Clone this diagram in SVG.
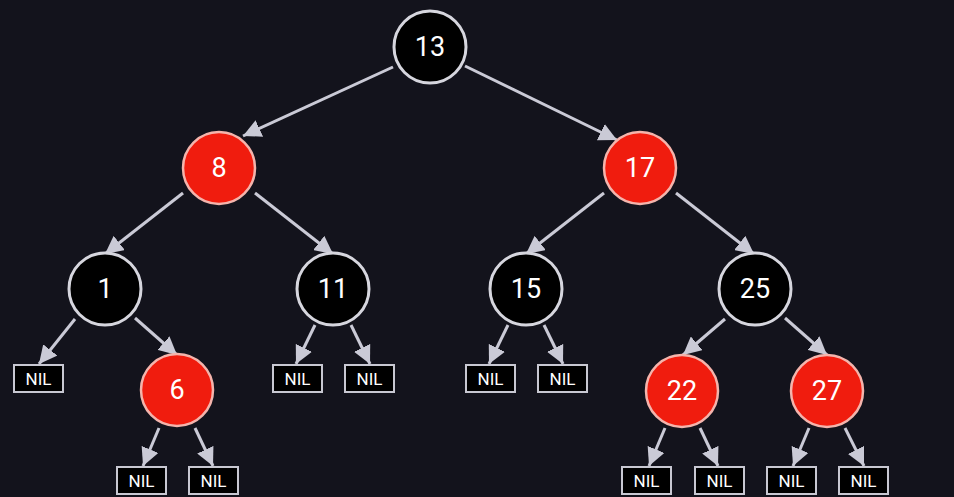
<svg xmlns="http://www.w3.org/2000/svg" width="954" height="497" viewBox="0 0 954 497">
<style>
.bg{fill:#13131c}
.blk{fill:#000;stroke:#d6d6de;stroke-width:3}
.red{fill:#f01c0e;stroke:#f4b4ac;stroke-width:2.5}
.num{font-family:Roboto,"Liberation Sans",sans-serif;font-size:27px;fill:#fff;text-anchor:middle;dominant-baseline:central}
.nilbox{fill:#000;stroke:#c8c8d2;stroke-width:2}
.nil{font-family:Roboto,"Liberation Sans",sans-serif;font-size:17px;fill:#fff;text-anchor:middle;dominant-baseline:central}
.edge{stroke:#cacad6;stroke-width:3;fill:none;marker-end:url(#ah)}
</style>
<defs>
<marker id="ah" viewBox="0 0 16 16" markerWidth="18" markerHeight="18" refX="16" refY="8" orient="auto" markerUnits="userSpaceOnUse">
<path d="M0,0 L16,8 L0,16 z" fill="#cacad6"/>
</marker>
</defs>
<rect class="bg" x="0" y="0" width="954" height="497"/>
<g id="connectors">
<line class="edge" x1="393" y1="67" x2="243" y2="136"/>
<line class="edge" x1="465" y1="66" x2="617" y2="140"/>
<line class="edge" x1="183" y1="193" x2="105" y2="254"/>
<line class="edge" x1="255" y1="193" x2="333" y2="254"/>
<line class="edge" x1="604" y1="193" x2="526" y2="254"/>
<line class="edge" x1="676" y1="193" x2="754" y2="254"/>
<line class="edge" x1="75" y1="319" x2="39" y2="364"/>
<line class="edge" x1="135" y1="318" x2="177" y2="355"/>
<line class="edge" x1="315" y1="325" x2="296" y2="364"/>
<line class="edge" x1="351" y1="325" x2="370" y2="364"/>
<line class="edge" x1="508" y1="325" x2="489" y2="364"/>
<line class="edge" x1="544" y1="325" x2="563" y2="364"/>
<line class="edge" x1="725" y1="319" x2="683" y2="355"/>
<line class="edge" x1="785" y1="318" x2="827" y2="355"/>
<line class="edge" x1="159" y1="428" x2="143" y2="466"/>
<line class="edge" x1="195" y1="428" x2="213" y2="466"/>
<line class="edge" x1="665" y1="428" x2="649" y2="466"/>
<line class="edge" x1="700" y1="428" x2="718" y2="466"/>
<line class="edge" x1="809" y1="428" x2="793" y2="466"/>
<line class="edge" x1="845" y1="428" x2="864" y2="466"/>
</g>
<g id="n13"><circle class="blk" cx="430" cy="47" r="36"/><text class="num" x="430" y="47">13</text></g>
<g id="n8"><circle class="red" cx="219" cy="168" r="36"/><text class="num" x="219" y="168">8</text></g>
<g id="n17"><circle class="red" cx="640" cy="168" r="36"/><text class="num" x="640" y="168">17</text></g>
<g id="n1"><circle class="blk" cx="105" cy="289" r="36"/><text class="num" x="105" y="289">1</text></g>
<g id="n11"><circle class="blk" cx="333" cy="289" r="36"/><text class="num" x="333" y="289">11</text></g>
<g id="n15"><circle class="blk" cx="526" cy="289" r="36"/><text class="num" x="526" y="289">15</text></g>
<g id="n25"><circle class="blk" cx="755" cy="289" r="36"/><text class="num" x="755" y="289">25</text></g>
<g id="n6"><circle class="red" cx="177" cy="390" r="36"/><text class="num" x="177" y="390">6</text></g>
<g id="n22"><circle class="red" cx="682" cy="391" r="36"/><text class="num" x="682" y="391">22</text></g>
<g id="n27"><circle class="red" cx="827" cy="391" r="36"/><text class="num" x="827" y="391">27</text></g>
<g id="nil1"><rect class="nilbox" x="14" y="365" width="49" height="27"/><text class="nil" x="38.5" y="379">NIL</text></g>
<g id="nil2"><rect class="nilbox" x="273" y="365" width="49" height="27"/><text class="nil" x="297.5" y="379">NIL</text></g>
<g id="nil3"><rect class="nilbox" x="345" y="365" width="49" height="27"/><text class="nil" x="369.5" y="379">NIL</text></g>
<g id="nil4"><rect class="nilbox" x="466" y="365" width="49" height="27"/><text class="nil" x="490.5" y="379">NIL</text></g>
<g id="nil5"><rect class="nilbox" x="538" y="365" width="49" height="27"/><text class="nil" x="562.5" y="379">NIL</text></g>
<g id="nil6"><rect class="nilbox" x="117" y="467" width="49" height="27"/><text class="nil" x="141.5" y="481">NIL</text></g>
<g id="nil7"><rect class="nilbox" x="189" y="467" width="49" height="27"/><text class="nil" x="213.5" y="481">NIL</text></g>
<g id="nil8"><rect class="nilbox" x="622" y="467" width="49" height="27"/><text class="nil" x="646.5" y="481">NIL</text></g>
<g id="nil9"><rect class="nilbox" x="695" y="467" width="49" height="27"/><text class="nil" x="719.5" y="481">NIL</text></g>
<g id="nil10"><rect class="nilbox" x="767" y="467" width="49" height="27"/><text class="nil" x="791.5" y="481">NIL</text></g>
<g id="nil11"><rect class="nilbox" x="839" y="467" width="49" height="27"/><text class="nil" x="863.5" y="481">NIL</text></g>
</svg>
